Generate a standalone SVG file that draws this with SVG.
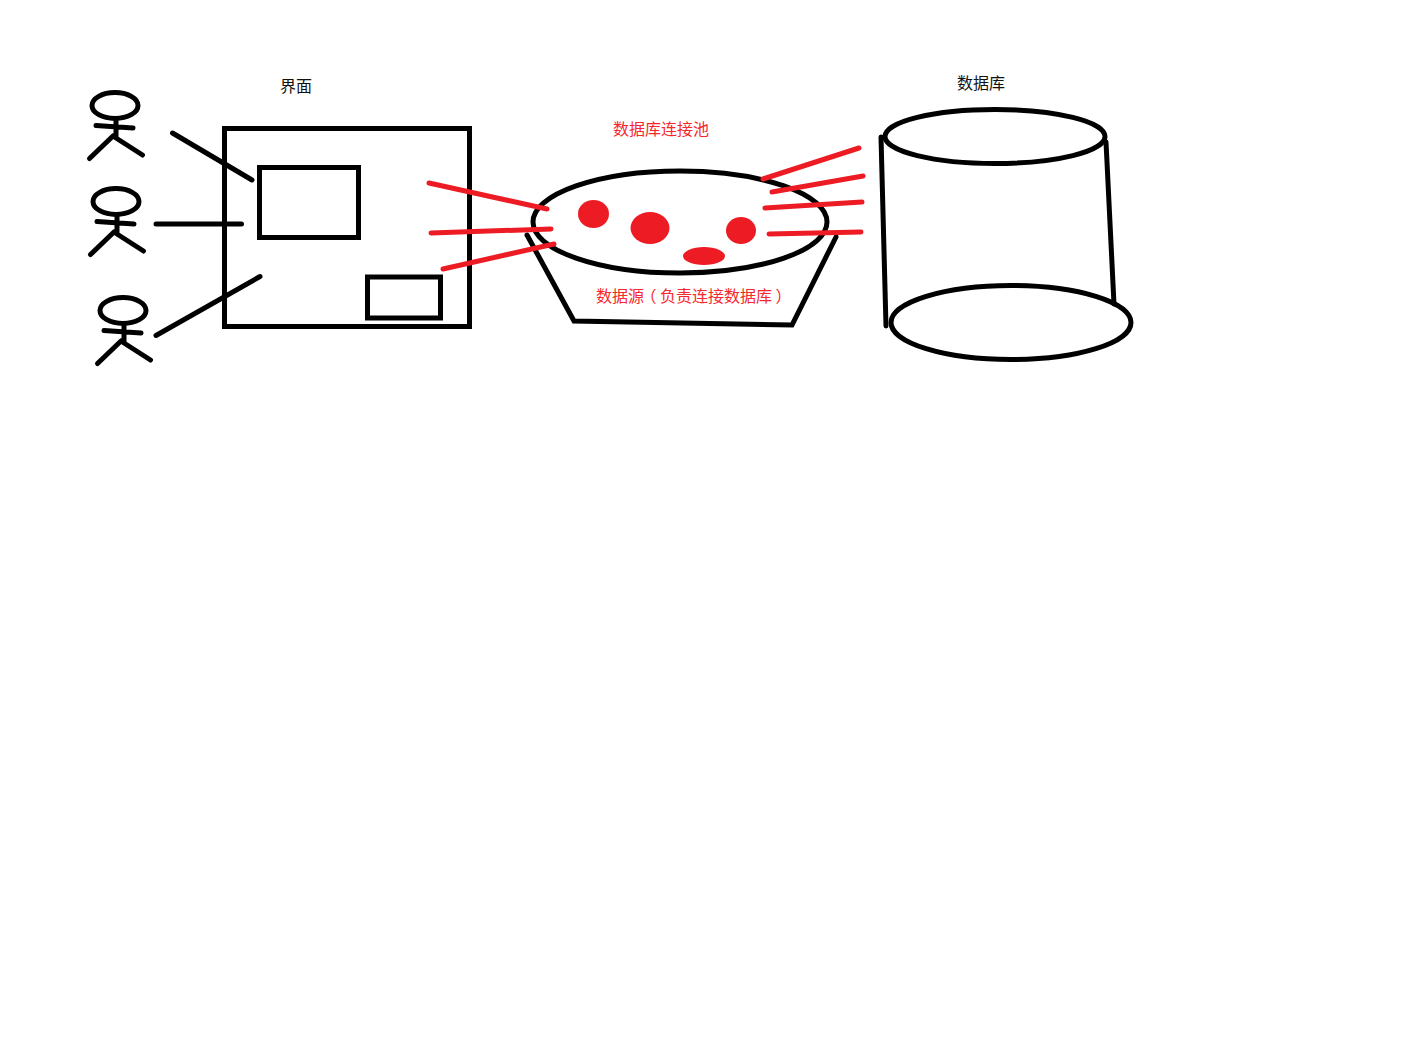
<svg xmlns="http://www.w3.org/2000/svg" width="1421" height="1059" viewBox="0 0 1421 1059">
<style>
.k{fill:none;stroke:#000;stroke-width:5;stroke-linecap:round;stroke-linejoin:miter}
.r{fill:none;stroke:#ed1c24;stroke-width:5;stroke-linecap:round}
.d{fill:#ed1c24}
text{font-family:"Noto Sans CJK SC","Liberation Sans",sans-serif;font-size:16px}
.tk{fill:#111}
.tr{fill:#f5282d}
.p{font-feature-settings:"palt"}
</style>
<defs>
<g id="person" class="k"><ellipse cx="115" cy="105.5" rx="23" ry="13"/><path d="M96 125.500L133 128M116 121V138L142.500 155M113 136L89.500 158.500"/></g>
</defs>
<rect width="1421" height="1059" fill="#fff"/>
<g id="person1"><use href="#person"/></g>
<g id="person2"><use href="#person" x="1" y="96"/></g>
<g id="person3"><use href="#person" x="8" y="205"/></g>
<g id="interface"><rect class="k" x="224.500" y="128.500" width="245" height="198"/><rect class="k" x="259.500" y="167.500" width="99" height="70"/><rect class="k" x="367.500" y="277" width="73" height="41"/><text class="tk" x="280" y="91.500">界面</text></g>
<g id="datasource"><path class="k" d="M527 235L574 321L792 325L836 237"/><text class="tr" x="596" y="302">数据源<tspan class="p" x="648">（</tspan><tspan x="660">负责连接数据库</tspan><tspan class="p" x="776">）</tspan></text></g>
<g id="pool"><ellipse class="k" cx="680" cy="222" rx="147" ry="51"/><ellipse class="d" cx="593.500" cy="214" rx="15.500" ry="14"/><ellipse class="d" cx="650" cy="228" rx="19.500" ry="16"/><ellipse class="d" cx="741" cy="230.500" rx="15" ry="13.500"/><ellipse class="d" cx="704" cy="256" rx="21" ry="9"/><text class="tr" x="613" y="135">数据库连接池</text></g>
<g id="database"><ellipse class="k" cx="995" cy="136.500" rx="110" ry="27"/><ellipse class="k" cx="1011" cy="322.500" rx="120" ry="37"/><path class="k" d="M881 137L886 326M1106 142L1114 304"/><text class="tk" x="957" y="88.500">数据库</text></g>
<g id="connectors"><path class="k" d="M172.500 133L252 180M156 224H241.500M156 335.500L260 276.500"/><path class="r" d="M429 183L547 209M431 233L551 229M443 269L554 244M763 179L859 148M772 192L863 176M765 208L862 202M769 234L861 232"/></g>
</svg>
